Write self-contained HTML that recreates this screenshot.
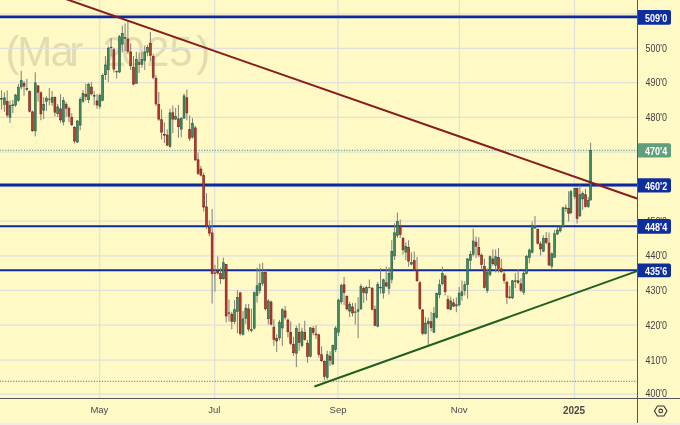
<!DOCTYPE html><html><head><meta charset="utf-8"><style>
html,body{margin:0;padding:0;background:#fff9c6;}
body{width:680px;height:425px;overflow:hidden;position:relative;font-family:"Liberation Sans",Arial,sans-serif;}
svg{position:absolute;left:0;top:0;}
</style></head><body>
<svg width="680" height="425" viewBox="0 0 680 425">
<rect x="0" y="0" width="680" height="425" fill="#fff9c6"/>
<rect x="0" y="423" width="680" height="2" fill="#ededf0"/>
<text y="65.5" font-family="Liberation Sans, Arial, sans-serif" font-size="42" fill="#e2dcb2" x="5.5 17.2 50.4 69.2 90 102.6 121.6 145.9 169.2 196.3">(Mar 2025)</text>
<line x1="0" x2="637" y1="394.1" y2="394.1" stroke="#e0e0db" stroke-width="1.2"/>
<line x1="0" x2="637" y1="360.1" y2="360.1" stroke="#e0e0db" stroke-width="1.2"/>
<line x1="0" x2="637" y1="325.1" y2="325.1" stroke="#e0e0db" stroke-width="1.2"/>
<line x1="0" x2="637" y1="290.3" y2="290.3" stroke="#e0e0db" stroke-width="1.2"/>
<line x1="0" x2="637" y1="255.8" y2="255.8" stroke="#e0e0db" stroke-width="1.2"/>
<line x1="0" x2="637" y1="221.2" y2="221.2" stroke="#e0e0db" stroke-width="1.2"/>
<line x1="0" x2="637" y1="186.6" y2="186.6" stroke="#e0e0db" stroke-width="1.2"/>
<line x1="0" x2="637" y1="152.1" y2="152.1" stroke="#e0e0db" stroke-width="1.2"/>
<line x1="0" x2="637" y1="117.4" y2="117.4" stroke="#e0e0db" stroke-width="1.2"/>
<line x1="0" x2="637" y1="82.6" y2="82.6" stroke="#e0e0db" stroke-width="1.2"/>
<line x1="0" x2="637" y1="48.4" y2="48.4" stroke="#e0e0db" stroke-width="1.2"/>
<line x1="0" x2="637" y1="13.8" y2="13.8" stroke="#e0e0db" stroke-width="1.2"/>
<line x1="99.7" x2="99.7" y1="0" y2="398" stroke="#e0e0db" stroke-width="1.2"/>
<line x1="214.7" x2="214.7" y1="0" y2="398" stroke="#e0e0db" stroke-width="1.2"/>
<line x1="338.0" x2="338.0" y1="0" y2="398" stroke="#e0e0db" stroke-width="1.2"/>
<line x1="459.3" x2="459.3" y1="0" y2="398" stroke="#e0e0db" stroke-width="1.2"/>
<line x1="574.5" x2="574.5" y1="0" y2="398" stroke="#e0e0db" stroke-width="1.2"/>
<ellipse cx="79.7" cy="0" rx="2.8" ry="1.3" fill="#e2dcb2"/>
<line x1="0" x2="637" y1="150.4" y2="150.4" stroke="#6c9f7f" stroke-width="1.1" stroke-dasharray="1.1 1.588" stroke-dashoffset="0.25"/>
<line x1="0" x2="637" y1="381.4" y2="381.4" stroke="#83838a" stroke-width="1.1" stroke-dasharray="1.1 1.588" stroke-dashoffset="0.25"/>
<line x1="0" x2="637" y1="16.9" y2="16.9" stroke="#0c2a9c" stroke-width="2.6"/>
<line x1="0" x2="637" y1="185.0" y2="185.0" stroke="#0c2a9c" stroke-width="3.0"/>
<line x1="0" x2="637" y1="226.2" y2="226.2" stroke="#0c2a9c" stroke-width="2.0"/>
<line x1="0" x2="637" y1="270.2" y2="270.2" stroke="#0c2a9c" stroke-width="2.0"/>
<rect x="1.07" y="90.40" width="1.00" height="19.00" fill="#7f7f7a"/>
<rect x="0.62" y="98.60" width="1.90" height="0.60" fill="#3f8c63" stroke="#245c40" stroke-width="0.60"/>
<rect x="3.88" y="92.40" width="1.00" height="19.40" fill="#7f7f7a"/>
<rect x="3.43" y="97.90" width="1.90" height="6.50" fill="#3f8c63" stroke="#245c40" stroke-width="0.60"/>
<rect x="6.69" y="90.40" width="1.00" height="27.20" fill="#7f7f7a"/>
<rect x="6.24" y="101.50" width="1.90" height="13.50" fill="#b83b2d" stroke="#7a1d15" stroke-width="0.60"/>
<rect x="9.49" y="100.60" width="1.00" height="22.30" fill="#7f7f7a"/>
<rect x="9.04" y="105.60" width="1.90" height="11.70" fill="#3f8c63" stroke="#245c40" stroke-width="0.60"/>
<rect x="12.30" y="100.00" width="1.00" height="13.00" fill="#7f7f7a"/>
<rect x="11.85" y="104.80" width="1.90" height="0.90" fill="#3f8c63" stroke="#245c40" stroke-width="0.60"/>
<rect x="15.11" y="94.00" width="1.00" height="13.00" fill="#7f7f7a"/>
<rect x="14.66" y="95.00" width="1.90" height="10.00" fill="#3f8c63" stroke="#245c40" stroke-width="0.60"/>
<rect x="17.92" y="84.00" width="1.00" height="17.80" fill="#7f7f7a"/>
<rect x="17.47" y="87.30" width="1.90" height="13.00" fill="#3f8c63" stroke="#245c40" stroke-width="0.60"/>
<rect x="20.72" y="70.80" width="1.00" height="18.70" fill="#7f7f7a"/>
<rect x="20.27" y="80.60" width="1.90" height="6.30" fill="#3f8c63" stroke="#245c40" stroke-width="0.60"/>
<rect x="23.53" y="81.00" width="1.00" height="14.60" fill="#7f7f7a"/>
<rect x="23.08" y="83.60" width="1.90" height="2.50" fill="#b83b2d" stroke="#7a1d15" stroke-width="0.60"/>
<rect x="26.34" y="78.80" width="1.00" height="12.20" fill="#7f7f7a"/>
<rect x="25.89" y="88.30" width="1.90" height="1.20" fill="#3f8c63" stroke="#245c40" stroke-width="0.60"/>
<rect x="29.15" y="90.50" width="1.00" height="22.00" fill="#7f7f7a"/>
<rect x="28.70" y="91.50" width="1.90" height="19.80" fill="#b83b2d" stroke="#7a1d15" stroke-width="0.60"/>
<rect x="31.95" y="110.50" width="1.00" height="21.40" fill="#7f7f7a"/>
<rect x="31.50" y="111.90" width="1.90" height="18.80" fill="#b83b2d" stroke="#7a1d15" stroke-width="0.60"/>
<rect x="34.76" y="72.30" width="1.00" height="64.10" fill="#7f7f7a"/>
<rect x="34.31" y="82.90" width="1.90" height="48.00" fill="#3f8c63" stroke="#245c40" stroke-width="0.60"/>
<rect x="37.57" y="85.00" width="1.00" height="16.70" fill="#7f7f7a"/>
<rect x="37.12" y="85.90" width="1.90" height="6.30" fill="#b83b2d" stroke="#7a1d15" stroke-width="0.60"/>
<rect x="40.38" y="91.50" width="1.00" height="28.70" fill="#7f7f7a"/>
<rect x="39.93" y="92.80" width="1.90" height="21.10" fill="#b83b2d" stroke="#7a1d15" stroke-width="0.60"/>
<rect x="43.18" y="97.00" width="1.00" height="22.00" fill="#7f7f7a"/>
<rect x="42.73" y="104.30" width="1.90" height="5.90" fill="#3f8c63" stroke="#245c40" stroke-width="0.60"/>
<rect x="45.99" y="96.30" width="1.00" height="14.60" fill="#7f7f7a"/>
<rect x="45.54" y="98.50" width="1.90" height="2.70" fill="#3f8c63" stroke="#245c40" stroke-width="0.60"/>
<rect x="48.80" y="88.00" width="1.00" height="17.40" fill="#7f7f7a"/>
<rect x="48.35" y="99.10" width="1.90" height="0.40" fill="#3f8c63" stroke="#245c40" stroke-width="0.60"/>
<rect x="51.60" y="91.00" width="1.00" height="15.00" fill="#7f7f7a"/>
<rect x="51.15" y="97.30" width="1.90" height="5.20" fill="#3f8c63" stroke="#245c40" stroke-width="0.60"/>
<rect x="54.41" y="96.30" width="1.00" height="20.10" fill="#7f7f7a"/>
<rect x="53.96" y="97.30" width="1.90" height="14.90" fill="#b83b2d" stroke="#7a1d15" stroke-width="0.60"/>
<rect x="57.22" y="104.00" width="1.00" height="13.00" fill="#7f7f7a"/>
<rect x="56.77" y="106.90" width="1.90" height="6.80" fill="#3f8c63" stroke="#245c40" stroke-width="0.60"/>
<rect x="60.03" y="94.20" width="1.00" height="28.60" fill="#7f7f7a"/>
<rect x="59.58" y="108.90" width="1.90" height="11.00" fill="#b83b2d" stroke="#7a1d15" stroke-width="0.60"/>
<rect x="62.83" y="97.00" width="1.00" height="28.50" fill="#7f7f7a"/>
<rect x="62.38" y="100.50" width="1.90" height="21.40" fill="#3f8c63" stroke="#245c40" stroke-width="0.60"/>
<rect x="65.64" y="102.00" width="1.00" height="15.00" fill="#7f7f7a"/>
<rect x="65.19" y="104.20" width="1.90" height="4.00" fill="#b83b2d" stroke="#7a1d15" stroke-width="0.60"/>
<rect x="68.45" y="106.50" width="1.00" height="15.70" fill="#7f7f7a"/>
<rect x="68.00" y="108.60" width="1.90" height="7.70" fill="#b83b2d" stroke="#7a1d15" stroke-width="0.60"/>
<rect x="71.26" y="113.20" width="1.00" height="12.80" fill="#7f7f7a"/>
<rect x="70.81" y="117.30" width="1.90" height="7.40" fill="#b83b2d" stroke="#7a1d15" stroke-width="0.60"/>
<rect x="74.06" y="126.00" width="1.00" height="17.40" fill="#7f7f7a"/>
<rect x="73.61" y="127.30" width="1.90" height="13.70" fill="#b83b2d" stroke="#7a1d15" stroke-width="0.60"/>
<rect x="76.87" y="120.10" width="1.00" height="22.80" fill="#7f7f7a"/>
<rect x="76.42" y="121.00" width="1.90" height="21.10" fill="#3f8c63" stroke="#245c40" stroke-width="0.60"/>
<rect x="79.68" y="97.00" width="1.00" height="33.20" fill="#7f7f7a"/>
<rect x="79.23" y="99.30" width="1.90" height="25.80" fill="#3f8c63" stroke="#245c40" stroke-width="0.60"/>
<rect x="82.48" y="90.00" width="1.00" height="12.80" fill="#7f7f7a"/>
<rect x="82.03" y="93.30" width="1.90" height="7.90" fill="#3f8c63" stroke="#245c40" stroke-width="0.60"/>
<rect x="85.29" y="83.50" width="1.00" height="17.00" fill="#7f7f7a"/>
<rect x="84.84" y="94.50" width="1.90" height="1.90" fill="#b83b2d" stroke="#7a1d15" stroke-width="0.60"/>
<rect x="88.10" y="82.60" width="1.00" height="20.60" fill="#7f7f7a"/>
<rect x="87.65" y="84.40" width="1.90" height="15.30" fill="#3f8c63" stroke="#245c40" stroke-width="0.60"/>
<rect x="90.91" y="82.20" width="1.00" height="13.30" fill="#7f7f7a"/>
<rect x="90.46" y="87.10" width="1.90" height="6.80" fill="#b83b2d" stroke="#7a1d15" stroke-width="0.60"/>
<rect x="93.71" y="91.20" width="1.00" height="14.10" fill="#7f7f7a"/>
<rect x="93.26" y="95.60" width="1.90" height="0.60" fill="#3f8c63" stroke="#245c40" stroke-width="0.60"/>
<rect x="96.52" y="94.00" width="1.00" height="14.80" fill="#7f7f7a"/>
<rect x="96.07" y="100.90" width="1.90" height="4.10" fill="#b83b2d" stroke="#7a1d15" stroke-width="0.60"/>
<rect x="99.33" y="93.50" width="1.00" height="15.30" fill="#7f7f7a"/>
<rect x="98.88" y="95.60" width="1.90" height="10.60" fill="#3f8c63" stroke="#245c40" stroke-width="0.60"/>
<rect x="102.14" y="73.30" width="1.00" height="27.90" fill="#7f7f7a"/>
<rect x="101.69" y="75.30" width="1.90" height="25.00" fill="#3f8c63" stroke="#245c40" stroke-width="0.60"/>
<rect x="104.94" y="56.00" width="1.00" height="24.00" fill="#7f7f7a"/>
<rect x="104.49" y="65.00" width="1.90" height="9.70" fill="#3f8c63" stroke="#245c40" stroke-width="0.60"/>
<rect x="107.75" y="46.30" width="1.00" height="35.70" fill="#7f7f7a"/>
<rect x="107.30" y="48.20" width="1.90" height="21.50" fill="#3f8c63" stroke="#245c40" stroke-width="0.60"/>
<rect x="110.56" y="38.00" width="1.00" height="18.30" fill="#7f7f7a"/>
<rect x="110.11" y="47.30" width="1.90" height="0.40" fill="#3f8c63" stroke="#245c40" stroke-width="0.60"/>
<rect x="113.36" y="47.90" width="1.00" height="24.70" fill="#7f7f7a"/>
<rect x="112.91" y="49.70" width="1.90" height="19.40" fill="#b83b2d" stroke="#7a1d15" stroke-width="0.60"/>
<rect x="116.17" y="70.50" width="1.00" height="8.00" fill="#7f7f7a"/>
<rect x="115.72" y="71.50" width="1.90" height="0.40" fill="#3f8c63" stroke="#245c40" stroke-width="0.60"/>
<rect x="118.98" y="35.00" width="1.00" height="38.00" fill="#7f7f7a"/>
<rect x="118.53" y="36.70" width="1.90" height="35.30" fill="#3f8c63" stroke="#245c40" stroke-width="0.60"/>
<rect x="121.79" y="25.70" width="1.00" height="26.80" fill="#7f7f7a"/>
<rect x="121.34" y="33.60" width="1.90" height="10.50" fill="#3f8c63" stroke="#245c40" stroke-width="0.60"/>
<rect x="124.59" y="23.40" width="1.00" height="27.60" fill="#7f7f7a"/>
<rect x="124.14" y="37.50" width="1.90" height="0.90" fill="#3f8c63" stroke="#245c40" stroke-width="0.60"/>
<rect x="127.40" y="21.10" width="1.00" height="32.90" fill="#7f7f7a"/>
<rect x="126.95" y="39.00" width="1.90" height="12.30" fill="#b83b2d" stroke="#7a1d15" stroke-width="0.60"/>
<rect x="130.21" y="43.30" width="1.00" height="26.70" fill="#7f7f7a"/>
<rect x="129.76" y="51.90" width="1.90" height="13.90" fill="#b83b2d" stroke="#7a1d15" stroke-width="0.60"/>
<rect x="133.02" y="56.00" width="1.00" height="29.20" fill="#7f7f7a"/>
<rect x="132.57" y="67.20" width="1.90" height="16.90" fill="#b83b2d" stroke="#7a1d15" stroke-width="0.60"/>
<rect x="135.82" y="51.70" width="1.00" height="32.30" fill="#7f7f7a"/>
<rect x="135.37" y="59.60" width="1.90" height="23.70" fill="#3f8c63" stroke="#245c40" stroke-width="0.60"/>
<rect x="138.63" y="52.50" width="1.00" height="20.50" fill="#7f7f7a"/>
<rect x="138.18" y="62.70" width="1.90" height="1.60" fill="#b83b2d" stroke="#7a1d15" stroke-width="0.60"/>
<rect x="141.44" y="51.70" width="1.00" height="16.00" fill="#7f7f7a"/>
<rect x="140.99" y="59.50" width="1.90" height="4.80" fill="#3f8c63" stroke="#245c40" stroke-width="0.60"/>
<rect x="144.25" y="45.60" width="1.00" height="24.40" fill="#7f7f7a"/>
<rect x="143.80" y="51.90" width="1.90" height="8.60" fill="#3f8c63" stroke="#245c40" stroke-width="0.60"/>
<rect x="147.05" y="44.80" width="1.00" height="11.50" fill="#7f7f7a"/>
<rect x="146.60" y="47.40" width="1.90" height="4.80" fill="#3f8c63" stroke="#245c40" stroke-width="0.60"/>
<rect x="149.86" y="31.80" width="1.00" height="29.10" fill="#7f7f7a"/>
<rect x="149.41" y="43.60" width="1.90" height="11.90" fill="#b83b2d" stroke="#7a1d15" stroke-width="0.60"/>
<rect x="152.67" y="54.00" width="1.00" height="25.10" fill="#7f7f7a"/>
<rect x="152.22" y="56.50" width="1.90" height="20.80" fill="#b83b2d" stroke="#7a1d15" stroke-width="0.60"/>
<rect x="155.47" y="75.20" width="1.00" height="30.60" fill="#7f7f7a"/>
<rect x="155.02" y="78.30" width="1.90" height="25.60" fill="#b83b2d" stroke="#7a1d15" stroke-width="0.60"/>
<rect x="158.28" y="91.90" width="1.00" height="29.00" fill="#7f7f7a"/>
<rect x="157.83" y="104.50" width="1.90" height="14.60" fill="#b83b2d" stroke="#7a1d15" stroke-width="0.60"/>
<rect x="161.09" y="109.50" width="1.00" height="29.80" fill="#7f7f7a"/>
<rect x="160.64" y="119.70" width="1.90" height="12.40" fill="#b83b2d" stroke="#7a1d15" stroke-width="0.60"/>
<rect x="163.90" y="122.50" width="1.00" height="20.60" fill="#7f7f7a"/>
<rect x="163.45" y="134.30" width="1.90" height="0.90" fill="#b83b2d" stroke="#7a1d15" stroke-width="0.60"/>
<rect x="166.70" y="129.30" width="1.00" height="16.90" fill="#7f7f7a"/>
<rect x="166.25" y="135.00" width="1.90" height="10.10" fill="#b83b2d" stroke="#7a1d15" stroke-width="0.60"/>
<rect x="169.51" y="108.70" width="1.00" height="39.00" fill="#7f7f7a"/>
<rect x="169.06" y="112.80" width="1.90" height="33.80" fill="#3f8c63" stroke="#245c40" stroke-width="0.60"/>
<rect x="172.32" y="105.60" width="1.00" height="27.60" fill="#7f7f7a"/>
<rect x="171.87" y="112.80" width="1.90" height="6.30" fill="#b83b2d" stroke="#7a1d15" stroke-width="0.60"/>
<rect x="175.13" y="107.90" width="1.00" height="12.30" fill="#7f7f7a"/>
<rect x="174.68" y="116.60" width="1.90" height="2.50" fill="#3f8c63" stroke="#245c40" stroke-width="0.60"/>
<rect x="177.93" y="104.90" width="1.00" height="32.90" fill="#7f7f7a"/>
<rect x="177.48" y="118.90" width="1.90" height="7.80" fill="#b83b2d" stroke="#7a1d15" stroke-width="0.60"/>
<rect x="180.74" y="117.00" width="1.00" height="20.20" fill="#7f7f7a"/>
<rect x="180.29" y="118.50" width="1.90" height="10.60" fill="#3f8c63" stroke="#245c40" stroke-width="0.60"/>
<rect x="183.55" y="93.50" width="1.00" height="25.40" fill="#7f7f7a"/>
<rect x="183.10" y="95.90" width="1.90" height="22.20" fill="#3f8c63" stroke="#245c40" stroke-width="0.60"/>
<rect x="186.35" y="89.40" width="1.00" height="30.90" fill="#7f7f7a"/>
<rect x="185.90" y="97.80" width="1.90" height="15.10" fill="#b83b2d" stroke="#7a1d15" stroke-width="0.60"/>
<rect x="189.16" y="115.50" width="1.00" height="25.50" fill="#7f7f7a"/>
<rect x="188.71" y="129.60" width="1.90" height="8.90" fill="#b83b2d" stroke="#7a1d15" stroke-width="0.60"/>
<rect x="191.97" y="118.20" width="1.00" height="20.40" fill="#7f7f7a"/>
<rect x="191.52" y="123.60" width="1.90" height="13.50" fill="#3f8c63" stroke="#245c40" stroke-width="0.60"/>
<rect x="194.78" y="125.80" width="1.00" height="35.20" fill="#7f7f7a"/>
<rect x="194.33" y="127.90" width="1.90" height="32.00" fill="#b83b2d" stroke="#7a1d15" stroke-width="0.60"/>
<rect x="197.58" y="152.50" width="1.00" height="22.50" fill="#7f7f7a"/>
<rect x="197.13" y="159.80" width="1.90" height="13.50" fill="#b83b2d" stroke="#7a1d15" stroke-width="0.60"/>
<rect x="200.39" y="165.90" width="1.00" height="10.60" fill="#7f7f7a"/>
<rect x="199.94" y="169.00" width="1.90" height="6.10" fill="#b83b2d" stroke="#7a1d15" stroke-width="0.60"/>
<rect x="203.20" y="172.50" width="1.00" height="39.10" fill="#7f7f7a"/>
<rect x="202.75" y="175.60" width="1.90" height="31.50" fill="#b83b2d" stroke="#7a1d15" stroke-width="0.60"/>
<rect x="206.01" y="193.20" width="1.00" height="35.80" fill="#7f7f7a"/>
<rect x="205.56" y="206.90" width="1.90" height="19.80" fill="#b83b2d" stroke="#7a1d15" stroke-width="0.60"/>
<rect x="208.81" y="220.60" width="1.00" height="15.60" fill="#7f7f7a"/>
<rect x="208.36" y="227.30" width="1.90" height="5.80" fill="#b83b2d" stroke="#7a1d15" stroke-width="0.60"/>
<rect x="211.62" y="209.00" width="1.00" height="94.60" fill="#7f7f7a"/>
<rect x="211.17" y="232.90" width="1.90" height="40.80" fill="#b83b2d" stroke="#7a1d15" stroke-width="0.60"/>
<rect x="214.43" y="264.80" width="1.00" height="26.80" fill="#7f7f7a"/>
<rect x="213.98" y="272.90" width="1.90" height="0.40" fill="#b83b2d" stroke="#7a1d15" stroke-width="0.60"/>
<rect x="217.24" y="256.40" width="1.00" height="18.30" fill="#7f7f7a"/>
<rect x="216.79" y="270.80" width="1.90" height="2.20" fill="#b83b2d" stroke="#7a1d15" stroke-width="0.60"/>
<rect x="220.04" y="267.60" width="1.00" height="16.30" fill="#7f7f7a"/>
<rect x="219.59" y="273.60" width="1.90" height="5.10" fill="#b83b2d" stroke="#7a1d15" stroke-width="0.60"/>
<rect x="222.85" y="257.60" width="1.00" height="22.00" fill="#7f7f7a"/>
<rect x="222.40" y="262.70" width="1.90" height="16.00" fill="#3f8c63" stroke="#245c40" stroke-width="0.60"/>
<rect x="225.66" y="264.00" width="1.00" height="58.40" fill="#7f7f7a"/>
<rect x="225.21" y="264.40" width="1.90" height="51.60" fill="#b83b2d" stroke="#7a1d15" stroke-width="0.60"/>
<rect x="228.46" y="299.50" width="1.00" height="22.10" fill="#7f7f7a"/>
<rect x="228.01" y="312.80" width="1.90" height="0.90" fill="#3f8c63" stroke="#245c40" stroke-width="0.60"/>
<rect x="231.27" y="311.70" width="1.00" height="17.60" fill="#7f7f7a"/>
<rect x="230.82" y="314.30" width="1.90" height="7.00" fill="#b83b2d" stroke="#7a1d15" stroke-width="0.60"/>
<rect x="234.08" y="300.20" width="1.00" height="23.80" fill="#7f7f7a"/>
<rect x="233.63" y="309.70" width="1.90" height="11.60" fill="#3f8c63" stroke="#245c40" stroke-width="0.60"/>
<rect x="236.89" y="290.30" width="1.00" height="42.70" fill="#7f7f7a"/>
<rect x="236.44" y="297.50" width="1.90" height="13.90" fill="#3f8c63" stroke="#245c40" stroke-width="0.60"/>
<rect x="239.69" y="291.80" width="1.00" height="43.60" fill="#7f7f7a"/>
<rect x="239.24" y="292.90" width="1.90" height="40.70" fill="#b83b2d" stroke="#7a1d15" stroke-width="0.60"/>
<rect x="242.50" y="311.00" width="1.00" height="24.40" fill="#7f7f7a"/>
<rect x="242.05" y="318.90" width="1.90" height="15.40" fill="#3f8c63" stroke="#245c40" stroke-width="0.60"/>
<rect x="245.31" y="304.00" width="1.00" height="20.00" fill="#7f7f7a"/>
<rect x="244.86" y="308.20" width="1.90" height="10.10" fill="#3f8c63" stroke="#245c40" stroke-width="0.60"/>
<rect x="248.12" y="304.00" width="1.00" height="27.60" fill="#7f7f7a"/>
<rect x="247.67" y="308.90" width="1.90" height="20.10" fill="#b83b2d" stroke="#7a1d15" stroke-width="0.60"/>
<rect x="250.92" y="308.60" width="1.00" height="23.70" fill="#7f7f7a"/>
<rect x="250.47" y="329.60" width="1.90" height="0.90" fill="#3f8c63" stroke="#245c40" stroke-width="0.60"/>
<rect x="253.73" y="291.50" width="1.00" height="38.00" fill="#7f7f7a"/>
<rect x="253.28" y="292.70" width="1.90" height="35.50" fill="#3f8c63" stroke="#245c40" stroke-width="0.60"/>
<rect x="256.54" y="267.60" width="1.00" height="35.00" fill="#7f7f7a"/>
<rect x="256.09" y="285.80" width="1.90" height="9.70" fill="#3f8c63" stroke="#245c40" stroke-width="0.60"/>
<rect x="259.34" y="263.80" width="1.00" height="29.80" fill="#7f7f7a"/>
<rect x="258.89" y="283.30" width="1.90" height="7.00" fill="#3f8c63" stroke="#245c40" stroke-width="0.60"/>
<rect x="262.15" y="263.00" width="1.00" height="23.00" fill="#7f7f7a"/>
<rect x="261.70" y="272.50" width="1.90" height="10.90" fill="#3f8c63" stroke="#245c40" stroke-width="0.60"/>
<rect x="264.96" y="270.00" width="1.00" height="40.50" fill="#7f7f7a"/>
<rect x="264.51" y="272.50" width="1.90" height="36.30" fill="#b83b2d" stroke="#7a1d15" stroke-width="0.60"/>
<rect x="267.77" y="299.00" width="1.00" height="25.50" fill="#7f7f7a"/>
<rect x="267.32" y="301.00" width="1.90" height="17.70" fill="#3f8c63" stroke="#245c40" stroke-width="0.60"/>
<rect x="270.57" y="300.50" width="1.00" height="25.00" fill="#7f7f7a"/>
<rect x="270.12" y="302.00" width="1.90" height="22.20" fill="#b83b2d" stroke="#7a1d15" stroke-width="0.60"/>
<rect x="273.38" y="319.10" width="1.00" height="26.80" fill="#7f7f7a"/>
<rect x="272.93" y="327.10" width="1.90" height="12.40" fill="#b83b2d" stroke="#7a1d15" stroke-width="0.60"/>
<rect x="276.19" y="334.40" width="1.00" height="17.60" fill="#7f7f7a"/>
<rect x="275.74" y="338.50" width="1.90" height="2.50" fill="#b83b2d" stroke="#7a1d15" stroke-width="0.60"/>
<rect x="279.00" y="319.90" width="1.00" height="20.60" fill="#7f7f7a"/>
<rect x="278.55" y="322.50" width="1.90" height="15.40" fill="#3f8c63" stroke="#245c40" stroke-width="0.60"/>
<rect x="281.80" y="308.20" width="1.00" height="37.70" fill="#7f7f7a"/>
<rect x="281.35" y="309.70" width="1.90" height="18.30" fill="#3f8c63" stroke="#245c40" stroke-width="0.60"/>
<rect x="284.61" y="306.00" width="1.00" height="13.80" fill="#7f7f7a"/>
<rect x="284.16" y="310.90" width="1.90" height="6.30" fill="#b83b2d" stroke="#7a1d15" stroke-width="0.60"/>
<rect x="287.42" y="318.30" width="1.00" height="19.20" fill="#7f7f7a"/>
<rect x="286.97" y="320.10" width="1.90" height="11.70" fill="#b83b2d" stroke="#7a1d15" stroke-width="0.60"/>
<rect x="290.22" y="321.40" width="1.00" height="23.70" fill="#7f7f7a"/>
<rect x="289.77" y="332.40" width="1.90" height="11.20" fill="#b83b2d" stroke="#7a1d15" stroke-width="0.60"/>
<rect x="293.03" y="336.70" width="1.00" height="19.10" fill="#7f7f7a"/>
<rect x="292.58" y="344.20" width="1.90" height="8.50" fill="#b83b2d" stroke="#7a1d15" stroke-width="0.60"/>
<rect x="295.84" y="325.80" width="1.00" height="41.20" fill="#7f7f7a"/>
<rect x="295.39" y="328.60" width="1.90" height="24.60" fill="#3f8c63" stroke="#245c40" stroke-width="0.60"/>
<rect x="298.65" y="323.30" width="1.00" height="27.50" fill="#7f7f7a"/>
<rect x="298.20" y="332.40" width="1.90" height="10.10" fill="#b83b2d" stroke="#7a1d15" stroke-width="0.60"/>
<rect x="301.45" y="327.60" width="1.00" height="19.90" fill="#7f7f7a"/>
<rect x="301.00" y="331.70" width="1.90" height="13.90" fill="#3f8c63" stroke="#245c40" stroke-width="0.60"/>
<rect x="304.26" y="320.70" width="1.00" height="19.90" fill="#7f7f7a"/>
<rect x="303.81" y="332.50" width="1.90" height="7.00" fill="#b83b2d" stroke="#7a1d15" stroke-width="0.60"/>
<rect x="307.07" y="339.80" width="1.00" height="23.00" fill="#7f7f7a"/>
<rect x="306.62" y="343.20" width="1.90" height="13.10" fill="#b83b2d" stroke="#7a1d15" stroke-width="0.60"/>
<rect x="309.88" y="327.00" width="1.00" height="30.50" fill="#7f7f7a"/>
<rect x="309.43" y="327.90" width="1.90" height="28.40" fill="#3f8c63" stroke="#245c40" stroke-width="0.60"/>
<rect x="312.68" y="326.00" width="1.00" height="9.20" fill="#7f7f7a"/>
<rect x="312.23" y="328.60" width="1.90" height="4.00" fill="#b83b2d" stroke="#7a1d15" stroke-width="0.60"/>
<rect x="315.49" y="325.30" width="1.00" height="13.70" fill="#7f7f7a"/>
<rect x="315.04" y="334.00" width="1.90" height="0.90" fill="#b83b2d" stroke="#7a1d15" stroke-width="0.60"/>
<rect x="318.30" y="333.70" width="1.00" height="23.80" fill="#7f7f7a"/>
<rect x="317.85" y="334.80" width="1.90" height="19.70" fill="#b83b2d" stroke="#7a1d15" stroke-width="0.60"/>
<rect x="321.11" y="346.40" width="1.00" height="15.60" fill="#7f7f7a"/>
<rect x="320.66" y="354.70" width="1.90" height="6.00" fill="#b83b2d" stroke="#7a1d15" stroke-width="0.60"/>
<rect x="323.91" y="360.50" width="1.00" height="19.90" fill="#7f7f7a"/>
<rect x="323.46" y="361.30" width="1.90" height="15.00" fill="#b83b2d" stroke="#7a1d15" stroke-width="0.60"/>
<rect x="326.72" y="350.60" width="1.00" height="29.10" fill="#7f7f7a"/>
<rect x="326.27" y="354.70" width="1.90" height="22.70" fill="#3f8c63" stroke="#245c40" stroke-width="0.60"/>
<rect x="329.53" y="351.30" width="1.00" height="14.60" fill="#7f7f7a"/>
<rect x="329.08" y="356.20" width="1.90" height="4.00" fill="#b83b2d" stroke="#7a1d15" stroke-width="0.60"/>
<rect x="332.33" y="344.50" width="1.00" height="20.50" fill="#7f7f7a"/>
<rect x="331.88" y="345.50" width="1.90" height="18.50" fill="#3f8c63" stroke="#245c40" stroke-width="0.60"/>
<rect x="335.14" y="326.10" width="1.00" height="26.00" fill="#7f7f7a"/>
<rect x="334.69" y="328.10" width="1.90" height="21.40" fill="#3f8c63" stroke="#245c40" stroke-width="0.60"/>
<rect x="337.95" y="298.50" width="1.00" height="37.50" fill="#7f7f7a"/>
<rect x="337.50" y="300.10" width="1.90" height="32.10" fill="#3f8c63" stroke="#245c40" stroke-width="0.60"/>
<rect x="340.76" y="283.80" width="1.00" height="20.60" fill="#7f7f7a"/>
<rect x="340.31" y="285.60" width="1.90" height="16.20" fill="#3f8c63" stroke="#245c40" stroke-width="0.60"/>
<rect x="343.56" y="276.90" width="1.00" height="28.30" fill="#7f7f7a"/>
<rect x="343.11" y="284.80" width="1.90" height="7.80" fill="#b83b2d" stroke="#7a1d15" stroke-width="0.60"/>
<rect x="346.37" y="295.20" width="1.00" height="15.30" fill="#7f7f7a"/>
<rect x="345.92" y="296.30" width="1.90" height="12.60" fill="#b83b2d" stroke="#7a1d15" stroke-width="0.60"/>
<rect x="349.18" y="301.80" width="1.00" height="15.20" fill="#7f7f7a"/>
<rect x="348.73" y="304.50" width="1.90" height="6.70" fill="#3f8c63" stroke="#245c40" stroke-width="0.60"/>
<rect x="351.99" y="302.90" width="1.00" height="13.60" fill="#7f7f7a"/>
<rect x="351.54" y="306.90" width="1.90" height="6.00" fill="#b83b2d" stroke="#7a1d15" stroke-width="0.60"/>
<rect x="354.79" y="303.00" width="1.00" height="21.50" fill="#7f7f7a"/>
<rect x="354.34" y="311.90" width="1.90" height="0.40" fill="#3f8c63" stroke="#245c40" stroke-width="0.60"/>
<rect x="357.60" y="297.20" width="1.00" height="41.00" fill="#7f7f7a"/>
<rect x="357.15" y="309.70" width="1.90" height="1.50" fill="#3f8c63" stroke="#245c40" stroke-width="0.60"/>
<rect x="360.41" y="283.80" width="1.00" height="26.00" fill="#7f7f7a"/>
<rect x="359.96" y="286.30" width="1.90" height="22.60" fill="#3f8c63" stroke="#245c40" stroke-width="0.60"/>
<rect x="363.21" y="286.50" width="1.00" height="16.30" fill="#7f7f7a"/>
<rect x="362.76" y="288.40" width="1.90" height="4.30" fill="#b83b2d" stroke="#7a1d15" stroke-width="0.60"/>
<rect x="366.02" y="285.80" width="1.00" height="14.60" fill="#7f7f7a"/>
<rect x="365.57" y="287.60" width="1.90" height="5.50" fill="#3f8c63" stroke="#245c40" stroke-width="0.60"/>
<rect x="368.83" y="279.50" width="1.00" height="9.00" fill="#7f7f7a"/>
<rect x="368.38" y="287.30" width="1.90" height="0.40" fill="#3f8c63" stroke="#245c40" stroke-width="0.60"/>
<rect x="371.64" y="287.00" width="1.00" height="23.50" fill="#7f7f7a"/>
<rect x="371.19" y="288.20" width="1.90" height="21.00" fill="#b83b2d" stroke="#7a1d15" stroke-width="0.60"/>
<rect x="374.44" y="305.50" width="1.00" height="20.70" fill="#7f7f7a"/>
<rect x="373.99" y="309.50" width="1.90" height="15.80" fill="#b83b2d" stroke="#7a1d15" stroke-width="0.60"/>
<rect x="377.25" y="281.80" width="1.00" height="45.50" fill="#7f7f7a"/>
<rect x="376.80" y="284.30" width="1.90" height="42.20" fill="#3f8c63" stroke="#245c40" stroke-width="0.60"/>
<rect x="380.06" y="268.00" width="1.00" height="25.80" fill="#7f7f7a"/>
<rect x="379.61" y="287.30" width="1.90" height="0.60" fill="#3f8c63" stroke="#245c40" stroke-width="0.60"/>
<rect x="382.87" y="278.70" width="1.00" height="19.80" fill="#7f7f7a"/>
<rect x="382.42" y="279.80" width="1.90" height="13.10" fill="#3f8c63" stroke="#245c40" stroke-width="0.60"/>
<rect x="385.67" y="266.50" width="1.00" height="20.60" fill="#7f7f7a"/>
<rect x="385.22" y="282.80" width="1.90" height="3.20" fill="#b83b2d" stroke="#7a1d15" stroke-width="0.60"/>
<rect x="388.48" y="267.20" width="1.00" height="27.40" fill="#7f7f7a"/>
<rect x="388.03" y="273.60" width="1.90" height="14.70" fill="#3f8c63" stroke="#245c40" stroke-width="0.60"/>
<rect x="391.29" y="240.20" width="1.00" height="43.10" fill="#7f7f7a"/>
<rect x="390.84" y="251.30" width="1.90" height="27.90" fill="#3f8c63" stroke="#245c40" stroke-width="0.60"/>
<rect x="394.09" y="223.30" width="1.00" height="36.70" fill="#7f7f7a"/>
<rect x="393.64" y="232.80" width="1.90" height="23.10" fill="#3f8c63" stroke="#245c40" stroke-width="0.60"/>
<rect x="396.90" y="212.60" width="1.00" height="25.30" fill="#7f7f7a"/>
<rect x="396.45" y="221.30" width="1.90" height="14.00" fill="#3f8c63" stroke="#245c40" stroke-width="0.60"/>
<rect x="399.71" y="219.50" width="1.00" height="18.40" fill="#7f7f7a"/>
<rect x="399.26" y="225.90" width="1.90" height="8.60" fill="#b83b2d" stroke="#7a1d15" stroke-width="0.60"/>
<rect x="402.52" y="237.10" width="1.00" height="17.60" fill="#7f7f7a"/>
<rect x="402.07" y="238.20" width="1.90" height="11.60" fill="#b83b2d" stroke="#7a1d15" stroke-width="0.60"/>
<rect x="405.32" y="242.50" width="1.00" height="17.50" fill="#7f7f7a"/>
<rect x="404.87" y="246.60" width="1.90" height="5.50" fill="#3f8c63" stroke="#245c40" stroke-width="0.60"/>
<rect x="408.13" y="240.20" width="1.00" height="26.50" fill="#7f7f7a"/>
<rect x="407.68" y="247.30" width="1.90" height="13.80" fill="#b83b2d" stroke="#7a1d15" stroke-width="0.60"/>
<rect x="410.94" y="252.40" width="1.00" height="13.00" fill="#7f7f7a"/>
<rect x="410.49" y="262.30" width="1.90" height="1.80" fill="#3f8c63" stroke="#245c40" stroke-width="0.60"/>
<rect x="413.75" y="251.60" width="1.00" height="18.90" fill="#7f7f7a"/>
<rect x="413.30" y="260.60" width="1.90" height="8.60" fill="#b83b2d" stroke="#7a1d15" stroke-width="0.60"/>
<rect x="416.55" y="257.00" width="1.00" height="24.80" fill="#7f7f7a"/>
<rect x="416.10" y="270.60" width="1.90" height="10.10" fill="#b83b2d" stroke="#7a1d15" stroke-width="0.60"/>
<rect x="419.36" y="281.00" width="1.00" height="29.00" fill="#7f7f7a"/>
<rect x="418.91" y="282.80" width="1.90" height="25.90" fill="#b83b2d" stroke="#7a1d15" stroke-width="0.60"/>
<rect x="422.17" y="309.00" width="1.00" height="26.10" fill="#7f7f7a"/>
<rect x="421.72" y="309.90" width="1.90" height="23.60" fill="#b83b2d" stroke="#7a1d15" stroke-width="0.60"/>
<rect x="424.98" y="317.00" width="1.00" height="17.50" fill="#7f7f7a"/>
<rect x="424.53" y="323.10" width="1.90" height="10.40" fill="#3f8c63" stroke="#245c40" stroke-width="0.60"/>
<rect x="427.78" y="317.60" width="1.00" height="27.20" fill="#7f7f7a"/>
<rect x="427.33" y="321.20" width="1.90" height="2.60" fill="#3f8c63" stroke="#245c40" stroke-width="0.60"/>
<rect x="430.59" y="311.80" width="1.00" height="19.40" fill="#7f7f7a"/>
<rect x="430.14" y="321.80" width="1.90" height="5.90" fill="#b83b2d" stroke="#7a1d15" stroke-width="0.60"/>
<rect x="433.40" y="307.00" width="1.00" height="26.00" fill="#7f7f7a"/>
<rect x="432.95" y="313.40" width="1.90" height="18.80" fill="#3f8c63" stroke="#245c40" stroke-width="0.60"/>
<rect x="436.20" y="292.50" width="1.00" height="26.00" fill="#7f7f7a"/>
<rect x="435.75" y="293.50" width="1.90" height="23.80" fill="#3f8c63" stroke="#245c40" stroke-width="0.60"/>
<rect x="439.01" y="279.50" width="1.00" height="18.80" fill="#7f7f7a"/>
<rect x="438.56" y="284.70" width="1.90" height="10.00" fill="#3f8c63" stroke="#245c40" stroke-width="0.60"/>
<rect x="441.82" y="266.50" width="1.00" height="19.00" fill="#7f7f7a"/>
<rect x="441.37" y="273.60" width="1.90" height="10.10" fill="#3f8c63" stroke="#245c40" stroke-width="0.60"/>
<rect x="444.63" y="274.70" width="1.00" height="20.70" fill="#7f7f7a"/>
<rect x="444.18" y="276.00" width="1.90" height="15.70" fill="#b83b2d" stroke="#7a1d15" stroke-width="0.60"/>
<rect x="447.43" y="295.40" width="1.00" height="14.20" fill="#7f7f7a"/>
<rect x="446.98" y="299.60" width="1.90" height="9.10" fill="#b83b2d" stroke="#7a1d15" stroke-width="0.60"/>
<rect x="450.24" y="296.70" width="1.00" height="13.60" fill="#7f7f7a"/>
<rect x="449.79" y="300.90" width="1.90" height="8.40" fill="#3f8c63" stroke="#245c40" stroke-width="0.60"/>
<rect x="453.05" y="298.60" width="1.00" height="8.40" fill="#7f7f7a"/>
<rect x="452.60" y="302.80" width="1.90" height="3.30" fill="#b83b2d" stroke="#7a1d15" stroke-width="0.60"/>
<rect x="455.86" y="297.40" width="1.00" height="14.80" fill="#7f7f7a"/>
<rect x="455.41" y="304.80" width="1.90" height="1.10" fill="#3f8c63" stroke="#245c40" stroke-width="0.60"/>
<rect x="458.66" y="287.00" width="1.00" height="19.40" fill="#7f7f7a"/>
<rect x="458.21" y="293.10" width="1.90" height="11.70" fill="#3f8c63" stroke="#245c40" stroke-width="0.60"/>
<rect x="461.47" y="280.50" width="1.00" height="20.10" fill="#7f7f7a"/>
<rect x="461.02" y="291.80" width="1.90" height="3.90" fill="#3f8c63" stroke="#245c40" stroke-width="0.60"/>
<rect x="464.28" y="281.20" width="1.00" height="14.20" fill="#7f7f7a"/>
<rect x="463.83" y="284.70" width="1.90" height="5.90" fill="#3f8c63" stroke="#245c40" stroke-width="0.60"/>
<rect x="467.08" y="258.00" width="1.00" height="40.60" fill="#7f7f7a"/>
<rect x="466.63" y="258.90" width="1.90" height="25.80" fill="#3f8c63" stroke="#245c40" stroke-width="0.60"/>
<rect x="469.89" y="251.00" width="1.00" height="18.30" fill="#7f7f7a"/>
<rect x="469.44" y="254.40" width="1.90" height="5.90" fill="#3f8c63" stroke="#245c40" stroke-width="0.60"/>
<rect x="472.70" y="228.80" width="1.00" height="27.50" fill="#7f7f7a"/>
<rect x="472.25" y="241.00" width="1.90" height="13.20" fill="#3f8c63" stroke="#245c40" stroke-width="0.60"/>
<rect x="475.51" y="236.50" width="1.00" height="21.50" fill="#7f7f7a"/>
<rect x="475.06" y="242.20" width="1.90" height="4.00" fill="#b83b2d" stroke="#7a1d15" stroke-width="0.60"/>
<rect x="478.31" y="237.30" width="1.00" height="19.90" fill="#7f7f7a"/>
<rect x="477.86" y="247.50" width="1.90" height="7.40" fill="#b83b2d" stroke="#7a1d15" stroke-width="0.60"/>
<rect x="481.12" y="253.30" width="1.00" height="16.10" fill="#7f7f7a"/>
<rect x="480.67" y="255.20" width="1.90" height="9.30" fill="#b83b2d" stroke="#7a1d15" stroke-width="0.60"/>
<rect x="483.93" y="258.70" width="1.00" height="29.80" fill="#7f7f7a"/>
<rect x="483.48" y="266.60" width="1.90" height="20.90" fill="#b83b2d" stroke="#7a1d15" stroke-width="0.60"/>
<rect x="486.74" y="268.60" width="1.00" height="24.50" fill="#7f7f7a"/>
<rect x="486.29" y="272.00" width="1.90" height="18.50" fill="#3f8c63" stroke="#245c40" stroke-width="0.60"/>
<rect x="489.54" y="255.60" width="1.00" height="20.70" fill="#7f7f7a"/>
<rect x="489.09" y="256.70" width="1.90" height="17.80" fill="#3f8c63" stroke="#245c40" stroke-width="0.60"/>
<rect x="492.35" y="249.50" width="1.00" height="16.10" fill="#7f7f7a"/>
<rect x="491.90" y="259.00" width="1.90" height="4.70" fill="#b83b2d" stroke="#7a1d15" stroke-width="0.60"/>
<rect x="495.16" y="249.50" width="1.00" height="23.00" fill="#7f7f7a"/>
<rect x="494.71" y="256.70" width="1.90" height="8.60" fill="#3f8c63" stroke="#245c40" stroke-width="0.60"/>
<rect x="497.97" y="248.00" width="1.00" height="24.50" fill="#7f7f7a"/>
<rect x="497.52" y="257.50" width="1.90" height="10.80" fill="#b83b2d" stroke="#7a1d15" stroke-width="0.60"/>
<rect x="500.77" y="258.90" width="1.00" height="14.10" fill="#7f7f7a"/>
<rect x="500.32" y="268.80" width="1.90" height="2.90" fill="#b83b2d" stroke="#7a1d15" stroke-width="0.60"/>
<rect x="503.58" y="271.30" width="1.00" height="12.30" fill="#7f7f7a"/>
<rect x="503.13" y="274.10" width="1.90" height="6.30" fill="#b83b2d" stroke="#7a1d15" stroke-width="0.60"/>
<rect x="506.39" y="281.30" width="1.00" height="22.90" fill="#7f7f7a"/>
<rect x="505.94" y="282.10" width="1.90" height="15.10" fill="#b83b2d" stroke="#7a1d15" stroke-width="0.60"/>
<rect x="509.19" y="285.90" width="1.00" height="13.00" fill="#7f7f7a"/>
<rect x="508.74" y="296.90" width="1.90" height="0.90" fill="#3f8c63" stroke="#245c40" stroke-width="0.60"/>
<rect x="512.00" y="280.00" width="1.00" height="19.00" fill="#7f7f7a"/>
<rect x="511.55" y="280.80" width="1.90" height="17.00" fill="#3f8c63" stroke="#245c40" stroke-width="0.60"/>
<rect x="514.81" y="272.90" width="1.00" height="15.30" fill="#7f7f7a"/>
<rect x="514.36" y="280.80" width="1.90" height="0.90" fill="#3f8c63" stroke="#245c40" stroke-width="0.60"/>
<rect x="517.62" y="269.00" width="1.00" height="15.30" fill="#7f7f7a"/>
<rect x="517.17" y="280.80" width="1.90" height="1.70" fill="#b83b2d" stroke="#7a1d15" stroke-width="0.60"/>
<rect x="520.42" y="278.20" width="1.00" height="13.80" fill="#7f7f7a"/>
<rect x="519.97" y="283.90" width="1.90" height="6.30" fill="#b83b2d" stroke="#7a1d15" stroke-width="0.60"/>
<rect x="523.23" y="270.60" width="1.00" height="24.40" fill="#7f7f7a"/>
<rect x="522.78" y="273.20" width="1.90" height="19.30" fill="#3f8c63" stroke="#245c40" stroke-width="0.60"/>
<rect x="526.04" y="255.00" width="1.00" height="19.50" fill="#7f7f7a"/>
<rect x="525.59" y="256.30" width="1.90" height="17.00" fill="#3f8c63" stroke="#245c40" stroke-width="0.60"/>
<rect x="528.85" y="248.40" width="1.00" height="14.50" fill="#7f7f7a"/>
<rect x="528.40" y="250.10" width="1.90" height="7.40" fill="#3f8c63" stroke="#245c40" stroke-width="0.60"/>
<rect x="531.65" y="221.40" width="1.00" height="32.10" fill="#7f7f7a"/>
<rect x="531.20" y="225.50" width="1.90" height="26.70" fill="#3f8c63" stroke="#245c40" stroke-width="0.60"/>
<rect x="534.46" y="216.00" width="1.00" height="13.00" fill="#7f7f7a"/>
<rect x="534.01" y="227.10" width="1.90" height="0.90" fill="#3f8c63" stroke="#245c40" stroke-width="0.60"/>
<rect x="537.27" y="228.30" width="1.00" height="16.00" fill="#7f7f7a"/>
<rect x="536.82" y="229.30" width="1.90" height="14.00" fill="#b83b2d" stroke="#7a1d15" stroke-width="0.60"/>
<rect x="540.07" y="241.50" width="1.00" height="14.00" fill="#7f7f7a"/>
<rect x="539.62" y="243.90" width="1.90" height="5.00" fill="#b83b2d" stroke="#7a1d15" stroke-width="0.60"/>
<rect x="542.88" y="235.20" width="1.00" height="16.80" fill="#7f7f7a"/>
<rect x="542.43" y="238.50" width="1.90" height="12.70" fill="#3f8c63" stroke="#245c40" stroke-width="0.60"/>
<rect x="545.69" y="232.00" width="1.00" height="12.30" fill="#7f7f7a"/>
<rect x="545.24" y="238.50" width="1.90" height="4.00" fill="#b83b2d" stroke="#7a1d15" stroke-width="0.60"/>
<rect x="548.50" y="232.50" width="1.00" height="33.40" fill="#7f7f7a"/>
<rect x="548.05" y="243.10" width="1.90" height="21.90" fill="#b83b2d" stroke="#7a1d15" stroke-width="0.60"/>
<rect x="551.30" y="252.40" width="1.00" height="16.40" fill="#7f7f7a"/>
<rect x="550.85" y="253.80" width="1.90" height="12.40" fill="#3f8c63" stroke="#245c40" stroke-width="0.60"/>
<rect x="554.11" y="230.00" width="1.00" height="28.00" fill="#7f7f7a"/>
<rect x="553.66" y="233.80" width="1.90" height="23.40" fill="#3f8c63" stroke="#245c40" stroke-width="0.60"/>
<rect x="556.92" y="227.00" width="1.00" height="8.00" fill="#7f7f7a"/>
<rect x="556.47" y="230.10" width="1.90" height="3.90" fill="#3f8c63" stroke="#245c40" stroke-width="0.60"/>
<rect x="559.73" y="225.50" width="1.00" height="7.00" fill="#7f7f7a"/>
<rect x="559.28" y="227.00" width="1.90" height="3.90" fill="#3f8c63" stroke="#245c40" stroke-width="0.60"/>
<rect x="562.53" y="206.80" width="1.00" height="21.00" fill="#7f7f7a"/>
<rect x="562.08" y="207.80" width="1.90" height="18.90" fill="#3f8c63" stroke="#245c40" stroke-width="0.60"/>
<rect x="565.34" y="204.30" width="1.00" height="7.50" fill="#7f7f7a"/>
<rect x="564.89" y="207.90" width="1.90" height="0.80" fill="#3f8c63" stroke="#245c40" stroke-width="0.60"/>
<rect x="568.15" y="191.20" width="1.00" height="30.30" fill="#7f7f7a"/>
<rect x="567.70" y="208.40" width="1.90" height="5.00" fill="#b83b2d" stroke="#7a1d15" stroke-width="0.60"/>
<rect x="570.40" y="190.00" width="1.00" height="24.30" fill="#7f7f7a"/>
<rect x="569.95" y="191.70" width="1.90" height="21.00" fill="#3f8c63" stroke="#245c40" stroke-width="0.60"/>
<rect x="574.30" y="187.50" width="1.00" height="11.50" fill="#7f7f7a"/>
<rect x="573.85" y="188.50" width="1.90" height="8.10" fill="#3f8c63" stroke="#245c40" stroke-width="0.60"/>
<rect x="576.57" y="187.50" width="1.00" height="36.00" fill="#7f7f7a"/>
<rect x="576.12" y="188.50" width="1.90" height="30.00" fill="#b83b2d" stroke="#7a1d15" stroke-width="0.60"/>
<rect x="579.38" y="185.30" width="1.00" height="31.50" fill="#7f7f7a"/>
<rect x="578.93" y="194.70" width="1.90" height="21.20" fill="#3f8c63" stroke="#245c40" stroke-width="0.60"/>
<rect x="582.18" y="191.40" width="1.00" height="18.40" fill="#7f7f7a"/>
<rect x="581.73" y="193.30" width="1.90" height="5.60" fill="#3f8c63" stroke="#245c40" stroke-width="0.60"/>
<rect x="584.99" y="189.00" width="1.00" height="18.50" fill="#7f7f7a"/>
<rect x="584.54" y="194.70" width="1.90" height="11.80" fill="#b83b2d" stroke="#7a1d15" stroke-width="0.60"/>
<rect x="587.80" y="197.00" width="1.00" height="11.10" fill="#7f7f7a"/>
<rect x="587.35" y="200.30" width="1.90" height="6.20" fill="#3f8c63" stroke="#245c40" stroke-width="0.60"/>
<rect x="590.10" y="142.80" width="1.00" height="57.70" fill="#7f7f7a"/>
<rect x="589.65" y="150.30" width="1.90" height="49.70" fill="#3f8c63" stroke="#245c40" stroke-width="0.60"/>
<line x1="0.0" y1="-23.96" x2="637.0" y2="198.49" stroke="#861c1e" stroke-width="2"/>
<line x1="315.2" y1="386.30" x2="637.0" y2="271.10" stroke="#1f5f1f" stroke-width="2" stroke-linecap="round"/>
<rect x="637" y="0" width="1" height="423" fill="#555"/>
<rect x="0" y="398" width="680" height="1" fill="#555"/>
<text x="645.5" y="52.0" font-size="10" fill="#404040" textLength="21.5" lengthAdjust="spacingAndGlyphs">500'0</text>
<text x="645.5" y="86.2" font-size="10" fill="#404040" textLength="21.5" lengthAdjust="spacingAndGlyphs">490'0</text>
<text x="645.5" y="121.0" font-size="10" fill="#404040" textLength="21.5" lengthAdjust="spacingAndGlyphs">480'0</text>
<text x="645.5" y="224.8" font-size="10" fill="#404040" textLength="21.5" lengthAdjust="spacingAndGlyphs">450'0</text>
<text x="645.5" y="259.4" font-size="10" fill="#404040" textLength="21.5" lengthAdjust="spacingAndGlyphs">440'0</text>
<text x="645.5" y="293.9" font-size="10" fill="#404040" textLength="21.5" lengthAdjust="spacingAndGlyphs">430'0</text>
<text x="645.5" y="328.7" font-size="10" fill="#404040" textLength="21.5" lengthAdjust="spacingAndGlyphs">420'0</text>
<text x="645.5" y="363.7" font-size="10" fill="#404040" textLength="21.5" lengthAdjust="spacingAndGlyphs">410'0</text>
<text x="645.5" y="396.9" font-size="10" fill="#404040" textLength="21.5" lengthAdjust="spacingAndGlyphs">400'0</text>
<path d="M638 10.1 H669 a2 2 0 0 1 2 2 V22.8 a2 2 0 0 1 -2 2 H638 Z" fill="#0f2e9e"/>
<text x="645" y="21.9" font-size="10.2" font-weight="bold" fill="#fff" textLength="22.2" lengthAdjust="spacingAndGlyphs">509'0</text>
<path d="M638 143.2 H669 a2 2 0 0 1 2 2 V155.6 a2 2 0 0 1 -2 2 H638 Z" fill="#5f9f7b"/>
<text x="645" y="154.9" font-size="10.2" font-weight="bold" fill="#fff" textLength="22.2" lengthAdjust="spacingAndGlyphs">470'4</text>
<path d="M638 178.3 H669 a2 2 0 0 1 2 2 V190.6 a2 2 0 0 1 -2 2 H638 Z" fill="#0f2e9e"/>
<text x="645" y="189.9" font-size="10.2" font-weight="bold" fill="#fff" textLength="22.2" lengthAdjust="spacingAndGlyphs">460'2</text>
<path d="M638 219.0 H669 a2 2 0 0 1 2 2 V231.8 a2 2 0 0 1 -2 2 H638 Z" fill="#0f2e9e"/>
<text x="645" y="230.9" font-size="10.2" font-weight="bold" fill="#fff" textLength="22.2" lengthAdjust="spacingAndGlyphs">448'4</text>
<path d="M638 263.5 H669 a2 2 0 0 1 2 2 V275.2 a2 2 0 0 1 -2 2 H638 Z" fill="#0f2e9e"/>
<text x="645" y="274.9" font-size="10.2" font-weight="bold" fill="#fff" textLength="22.2" lengthAdjust="spacingAndGlyphs">435'6</text>
<text x="99.4" y="412.8" font-size="9.5" fill="#4a4a4a" text-anchor="middle">May</text>
<text x="214.4" y="412.8" font-size="9.5" fill="#4a4a4a" text-anchor="middle">Jul</text>
<text x="338.0" y="412.8" font-size="9.5" fill="#4a4a4a" text-anchor="middle">Sep</text>
<text x="459.1" y="412.8" font-size="9.5" fill="#4a4a4a" text-anchor="middle">Nov</text>
<text x="574" y="413.5" font-size="10" font-weight="bold" fill="#4a4a4a" text-anchor="middle">2025</text>
<polygon points="667.00,410.95 663.90,405.95 657.50,405.95 654.40,410.95 657.50,415.95 663.90,415.95" fill="none" stroke="#333" stroke-width="1.1" stroke-linejoin="round"/>
<circle cx="660.7" cy="410.9" r="1.8" fill="none" stroke="#333" stroke-width="1.1"/>
</svg></body></html>
